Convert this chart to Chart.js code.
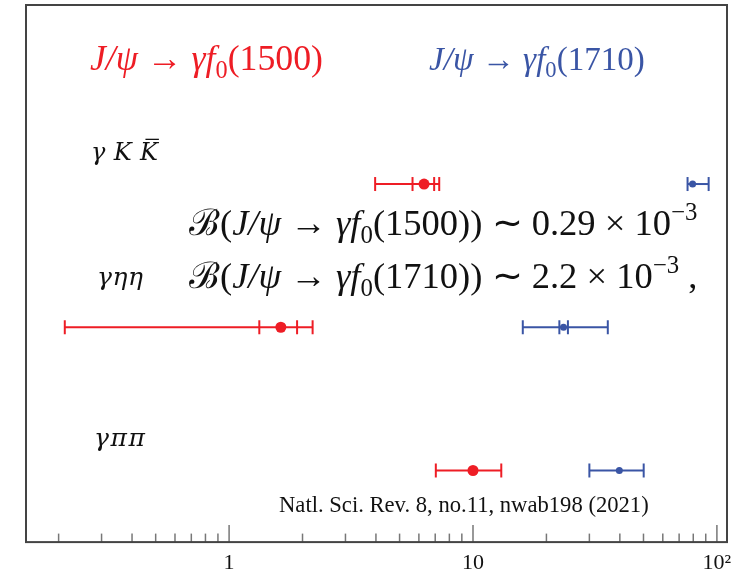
<!DOCTYPE html>
<html>
<head>
<meta charset="utf-8">
<script src="https://cdn.jsdelivr.net/npm/chart.js@4/dist/chart.umd.min.js"></script>
<style>
  html, body { margin: 0; padding: 0; background: #ffffff; }
  #wrap { width: 740px; height: 573px; position: relative; }
</style>
</head>
<body>
<div id="wrap"><canvas id="c" width="740" height="573"></canvas></div>
<script>
// Decay channels, one row each (top to bottom)
const channels = ['γKK̄', 'γηη', 'γππ'];
const rowPos = [3, 2, 1];

// J/ψ → γ f0(1500): central values, inner and outer error ranges
const f1500Central = [6.3, 1.63, 10.0];
const f1500InnerLo = [5.65, 1.33, null];
const f1500InnerHi = [6.93, 1.90, null];
const f1500OuterLo = [3.97, 0.212, 7.04];
const f1500OuterHi = [7.27, 2.20, 13.06];

// J/ψ → γ f0(1710)
const f1710Central = [79.5, 23.5, 39.8];
const f1710InnerLo = [null, 22.6, null];
const f1710InnerHi = [null, 24.5, null];
const f1710OuterLo = [75.8, 16.0, 30.0];
const f1710OuterHi = [92.5, 35.7, 50.1];

// Log axis ticks and their labels
const tickValues = [0.2,0.3,0.4,0.5,0.6,0.7,0.8,0.9,1,2,3,4,5,6,7,8,9,10,20,30,40,50,60,70,80,90,100];
const majorLabels = { 1: '1', 10: '10', 100: '10²' };

const RED = '#ee1d25';
const BLUE = '#3a55a5';

function centralDataset(values, color, radius) {
  return {
    data: values.map((v, i) => ({ x: v, y: rowPos[i] })),
    showLine: false,
    pointStyle: 'circle',
    pointRadius: radius,
    backgroundColor: color,
    borderColor: color,
    pointBorderWidth: 0
  };
}
function barDataset(lo, hi, i, color) {
  return {
    data: [{ x: lo[i], y: rowPos[i] }, { x: hi[i], y: rowPos[i] }],
    showLine: true,
    borderColor: color,
    borderWidth: 2,
    pointStyle: 'line',
    pointRotation: 90,
    pointRadius: 7,
    pointBorderColor: color,
    pointBorderWidth: 2,
    backgroundColor: color
  };
}
function capDataset(lo, hi, color) {
  const pts = [];
  lo.forEach((v, i) => { if (v != null) pts.push({ x: v, y: rowPos[i] }); });
  hi.forEach((v, i) => { if (v != null) pts.push({ x: v, y: rowPos[i] }); });
  return {
    data: pts,
    showLine: false,
    pointStyle: 'line',
    pointRotation: 90,
    pointRadius: 7,
    pointBorderColor: color,
    pointBorderWidth: 2,
    borderColor: color
  };
}

const datasets = [
  centralDataset(f1500Central, RED, 5.5),
  centralDataset(f1710Central, BLUE, 3.5),
  capDataset(f1500InnerLo, f1500InnerHi, RED),
  capDataset(f1710InnerLo, f1710InnerHi, BLUE)
];
rowPos.forEach((_, i) => {
  datasets.push(barDataset(f1500OuterLo, f1500OuterHi, i, RED));
  datasets.push(barDataset(f1710OuterLo, f1710OuterHi, i, BLUE));
});

// Rich text: segments with italic / sub / sup
function runRich(ctx, segs, x, y, size, family, draw) {
  let cx = x;
  for (const s of segs) {
    const sz = (s.sub || s.sup) ? size * 0.68 : size;
    ctx.font = (s.it ? 'italic ' : '') + sz + 'px ' + family;
    const dy = s.sub ? size * 0.22 : (s.sup ? -size * 0.42 : 0);
    const w = ctx.measureText(s.t).width;
    if (draw) ctx.fillText(s.t, cx, y + dy);
    cx += w;
  }
  return cx - x;
}
function fitRich(ctx, segs, x, y, width, family, color) {
  const w0 = runRich(ctx, segs, 0, 0, 100, family, false);
  const size = 100 * width / w0;
  ctx.fillStyle = color;
  runRich(ctx, segs, x, y, size, family, true);
  return size;
}
// Fixed-size italic label whose letters are spread over a given width
function spacedLabel(ctx, chars, x, y, width, size, family, color) {
  ctx.fillStyle = color;
  ctx.strokeStyle = color;
  ctx.font = 'italic ' + size + 'px ' + family;
  const ws = chars.map(c => ctx.measureText(c.t).width);
  const total = ws.reduce((a, b) => a + b, 0);
  const gap = chars.length > 1 ? (width - total) / (chars.length - 1) : 0;
  let cx = x;
  chars.forEach((c, i) => {
    ctx.fillText(c.t, cx, y);
    if (c.bar) {
      ctx.lineWidth = 1.3;
      ctx.beginPath();
      ctx.moveTo(cx + ws[i] * 0.3, y - size * 0.86);
      ctx.lineTo(cx + ws[i] * 1.05, y - size * 0.86);
      ctx.stroke();
    }
    cx += ws[i] + gap;
  });
}

const titleSegs = (mass) => [
  { t: 'J/ψ', it: true }, { t: ' → ' }, { t: 'γf', it: true }, { t: '0', sub: true }, { t: '(' + mass + ')' }
];
const branchSegs = (mass, val, tail) => [
  { t: 'ℬ' }, { t: '(' }, { t: 'J/ψ', it: true }, { t: ' → ' }, { t: 'γf', it: true },
  { t: '0', sub: true }, { t: '(' + mass + ')) ∼ ' + val + ' × 10' }, { t: '−3', sup: true }, { t: tail }
];

const decor = {
  id: 'decor',
  afterDraw(chart) {
    const { ctx, chartArea: a } = chart;
    const xs = chart.scales.x;
    ctx.save();
    // inward ticks on the log axis
    ctx.strokeStyle = '#777';
    ctx.lineWidth = 1.5;
    xs.ticks.forEach(t => {
      const px = xs.getPixelForValue(t.value);
      const lg = Math.log10(t.value);
      const major = Math.abs(lg - Math.round(lg)) < 1e-6;
      const len = major ? 17 : 8.5;
      ctx.beginPath();
      ctx.moveTo(px, a.bottom);
      ctx.lineTo(px, a.bottom - len);
      ctx.stroke();
    });
    // frame
    ctx.strokeStyle = '#444';
    ctx.lineWidth = 2;
    ctx.strokeRect(a.left, a.top, a.right - a.left, a.bottom - a.top);

    ctx.textBaseline = 'alphabetic';
    ctx.textAlign = 'left';
    const serif = '"Liberation Serif", serif';
    const dserif = '"DejaVu Serif", serif';

    // series titles
    fitRich(ctx, titleSegs('1500'), 90, 70, 233, serif, RED);
    fitRich(ctx, titleSegs('1710'), 429, 70, 216, serif, BLUE);

    // channel labels
    spacedLabel(ctx, [{ t: 'γ' }, { t: 'K' }, { t: 'K', bar: true }], 91, 160, 67, 24, dserif, '#111');
    spacedLabel(ctx, [{ t: 'γ' }, { t: 'η' }, { t: 'η' }], 97, 285, 46, 25, dserif, '#111');
    spacedLabel(ctx, [{ t: 'γ' }, { t: 'π' }, { t: 'π' }], 94, 446, 51, 25, dserif, '#111');

    // branching fractions
    const fs = fitRich(ctx, branchSegs('1500', '0.29', ''), 189, 235, 508, serif, '#111');
    ctx.fillStyle = '#111';
    runRich(ctx, branchSegs('1710', '2.2', ' ,'), 189, 288, fs, serif, true);

    // reference
    fitRich(ctx, [{ t: 'Natl. Sci. Rev. 8, no.11, nwab198 (2021)' }], 279, 512, 370, serif, '#111');
    ctx.restore();
  }
};

new Chart(document.getElementById('c'), {
  type: 'scatter',
  data: { datasets },
  options: {
    responsive: false,
    animation: false,
    events: [],
    layout: { autoPadding: false, padding: { left: 26, right: 13, top: 5, bottom: -11.5 } },
    plugins: { legend: { display: false }, tooltip: { enabled: false } },
    scales: {
      x: {
        type: 'logarithmic',
        min: 0.147,
        max: 110,
        position: 'bottom',
        grid: { display: false, drawTicks: false },
        border: { display: false },
        afterBuildTicks(scale) {
          scale.ticks = tickValues.map(v => ({ value: v }));
        },
        ticks: {
          autoSkip: false,
          maxRotation: 0,
          padding: 8,
          color: '#111',
          font: { family: '"Liberation Serif", serif', size: 22 },
          callback(value) { return majorLabels[value] || ''; }
        }
      },
      y: {
        type: 'linear',
        min: 0.5,
        max: 4.25,
        display: false,
        ticks: { display: false }
      }
    }
  },
  plugins: [decor]
});
</script>
</body>
</html>
